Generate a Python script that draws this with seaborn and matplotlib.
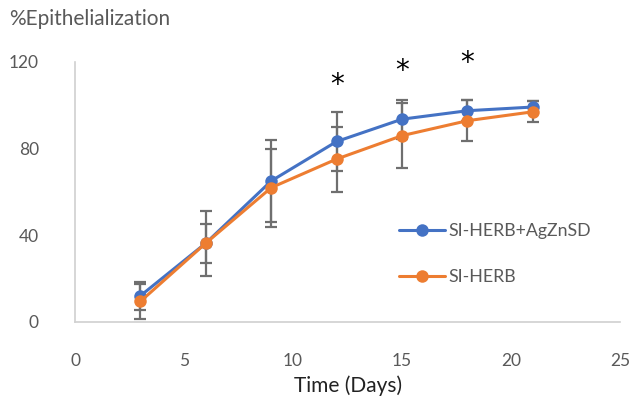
import matplotlib
matplotlib.use("Agg")
import matplotlib.pyplot as plt
import seaborn as sns
import pandas as pd

# data
days = [3, 6, 9, 12, 15, 18, 21]
combo_mean = [12.1, 36.4, 65.1, 83.3, 93.6, 97.5, 99.2]
combo_sd = [6.5, 9.0, 19.0, 13.6, 9.0, 4.8, 2.7]
herb_mean = [9.5, 36.4, 62.0, 75.2, 86.0, 92.9, 97.0]
herb_sd = [8.0, 15.0, 18.0, 15.0, 15.0, 9.6, 4.8]
star_days = [12, 15, 18]
star_y = [109.5, 116, 119.5]
series_names = ["SI-HERB+AgZnSD", "SI-HERB"]
x_ticks = [0, 5, 10, 15, 20, 25]
y_ticks = [0, 40, 80, 120]

df = pd.DataFrame({
    "Day": days + days,
    "Value": combo_mean + herb_mean,
    "SD": combo_sd + herb_sd,
    "Group": [series_names[0]] * len(days) + [series_names[1]] * len(days),
})

sns.set_style("white")
plt.rcParams["font.family"] = ["Lato", "DejaVu Sans"]
grey = "#595959"

fig = plt.figure(figsize=(6.36, 4.05), dpi=100)
ax = fig.add_axes([0.118, 0.205, 0.857, 0.642])

# error bars first so markers sit on top
for g in series_names:
    d = df[df["Group"] == g]
    ax.errorbar(d["Day"], d["Value"], yerr=d["SD"], fmt="none", ecolor="#6f6f6f",
                elinewidth=1.6, capsize=4, capthick=1.6, zorder=2)

sns.lineplot(data=df, x="Day", y="Value", hue="Group", hue_order=series_names,
             palette=["#4472C4", "#ED7D31"], marker="o", markersize=9,
             markeredgewidth=0, linewidth=2.2, ax=ax, zorder=3)

for d, y in zip(star_days, star_y):
    ax.text(d, y, "*", ha="center", va="center", fontsize=20, color="black",
            family="DejaVu Sans", clip_on=False)

ax.set_xlim(0, 25)
ax.set_ylim(0, 120)
ax.set_xticks(x_ticks)
ax.set_yticks(y_ticks)
ax.tick_params(axis="both", length=0, labelsize=12.5, labelcolor=grey)
ax.tick_params(axis="x", pad=22)
ax.tick_params(axis="y", pad=26)
for s in ["top", "right"]:
    ax.spines[s].set_visible(False)
for s in ["left", "bottom"]:
    ax.spines[s].set_color("#d0d0d0")
    ax.spines[s].set_linewidth(1.2)

ax.set_xlabel("Time (Days)", fontsize=15, color="#222222", labelpad=5)
ax.set_ylabel("")
fig.text(0.014, 0.952, "%Epithelialization", fontsize=15, color=grey,
         ha="left", va="center")

leg = ax.legend(loc="center left", bbox_to_anchor=(0.565, 0.26), frameon=False,
                fontsize=12.8, handlelength=2.6, labelspacing=1.7, handletextpad=0.2)
for t in leg.get_texts():
    t.set_color(grey)

fig.savefig("out.png", dpi=100)
